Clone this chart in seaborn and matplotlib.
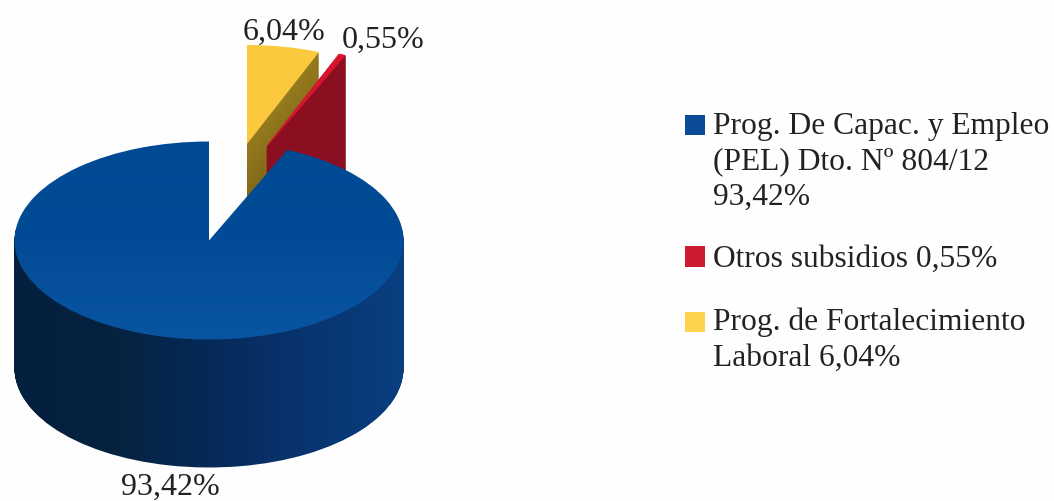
import numpy as np
import seaborn as sns
import matplotlib
matplotlib.use("Agg")
import matplotlib.pyplot as plt
from matplotlib.colors import LinearSegmentedColormap, to_rgb
from matplotlib.path import Path
from matplotlib.patches import Patch

categories = ["Prog. De Capac. y Empleo\n(PEL) Dto. Nº 804/12\n93,42%",
              "Otros subsidios 0,55%",
              "Prog. de Fortalecimiento\nLaboral 6,04%"]
shares = [93.42, 0.55, 6.04]
value_labels = ["93,42%", "0,55%", "6,04%"]
colors = ["#0a4c98", "#cc1a30", "#fdd24c"]

sns.set_theme(style="white")
plt.rcParams["font.family"] = ["Liberation Serif", "DejaVu Serif"]

W, H = 1054, 501
RX, RY, DEPTH = 194.5, 99.0, 128
TILT = RX / RY

fig = plt.figure(figsize=(W / 100, H / 100), dpi=100, facecolor="#fefefe")
ax = fig.add_axes([0, 0, 1, 1])


def Y(py):
    return (H - py) * TILT


def slice_wedge(i, px, py, color, z, lw=0):
    wedges, _ = ax.pie(shares, startangle=90, center=(px, Y(py)), radius=RX,
                       colors=[color] * len(shares),
                       wedgeprops={"linewidth": lw, "edgecolor": color})
    for k, w in enumerate(wedges):
        if k != i:
            w.remove()
    wedges[i].set_zorder(z)
    return wedges[i]


def mix(a, b, t):
    a, b = np.array(to_rgb(a)), np.array(to_rgb(b))
    return tuple(a + (b - a) * t)


def extrude(i, px, py, c_top, c_bottom, z, lw=0):
    for d in range(DEPTH, 0, -1):
        slice_wedge(i, px, py + d, mix(c_top, c_bottom, d / DEPTH), z, lw)


def gradient_clip(wedges, cmap_colors, z, extent, vertical=False):
    path = Path.make_compound_path(*[w.get_path().transformed(w.get_patch_transform()) for w in wedges])
    for w in wedges:
        w.remove()
    cmap = LinearSegmentedColormap.from_list("g", cmap_colors)
    grad = np.linspace(0, 1, 256)
    grad = grad.reshape(-1, 1) if vertical else grad.reshape(1, -1)
    im = ax.imshow(grad, cmap=cmap, extent=extent, origin="upper" if vertical else "lower",
                   aspect="auto", zorder=z, interpolation="bilinear")
    im.set_clip_path(path, ax.transData)


# yellow slice (exploded)
extrude(2, 247, 144, "#967a1e", "#6a5512", 1)
slice_wedge(2, 247, 144, "#fbc93e", 2)
# red slice (exploded)
extrude(1, 267, 146, "#8a0f20", "#8a0f20", 3, lw=1.0)
slice_wedge(1, 267, 146, "#d9142f", 4, lw=0.5)
# main slice
side = [slice_wedge(0, 209, 240.5 + d, colors[0], 5) for d in range(DEPTH, 0, -1)]
gradient_clip(side, ["#05203f", "#05223f", "#062a58", "#083470", "#0a3f80"], 5,
              (14, 404, Y(470), Y(230)))
top = [slice_wedge(0, 209, 240.5, colors[0], 6)]
gradient_clip(top, ["#004a94", "#024c97", "#0a55a2"], 6,
              (14, 404, Y(342), Y(140)), vertical=True)

ax.set_aspect("auto")
ax.set_xlim(0, W)
ax.set_ylim(0, H * TILT)
ax.axis("off")

txt = dict(fontsize=23, color="#222222", ha="center", va="baseline", zorder=10)
ax.text(170, Y(495), value_labels[0], **txt)
ax.text(383, Y(48), value_labels[1], **txt)
ax.text(284, Y(40), value_labels[2], **txt)

handles = [Patch(facecolor=c, edgecolor="none") for c in colors]
leg = ax.legend(handles, categories, loc="upper left", bbox_to_anchor=(685 / W, 1 - 112 / H),
                frameon=False, fontsize=22.7, handlelength=0.635, handleheight=0.635,
                handletextpad=0.25, labelspacing=1.05, borderpad=0, borderaxespad=0,
                labelcolor="#222222", alignment="left")
for t in leg.get_texts():
    t.set_linespacing(1.3)
# swatches sit beside the first line of each entry
for h, shift_px in zip(leg.legend_handles, [37, 0, 18]):
    h.set_y(h.get_y() + shift_px * 0.72)

fig.savefig("out.png", dpi=100, facecolor=fig.get_facecolor())
